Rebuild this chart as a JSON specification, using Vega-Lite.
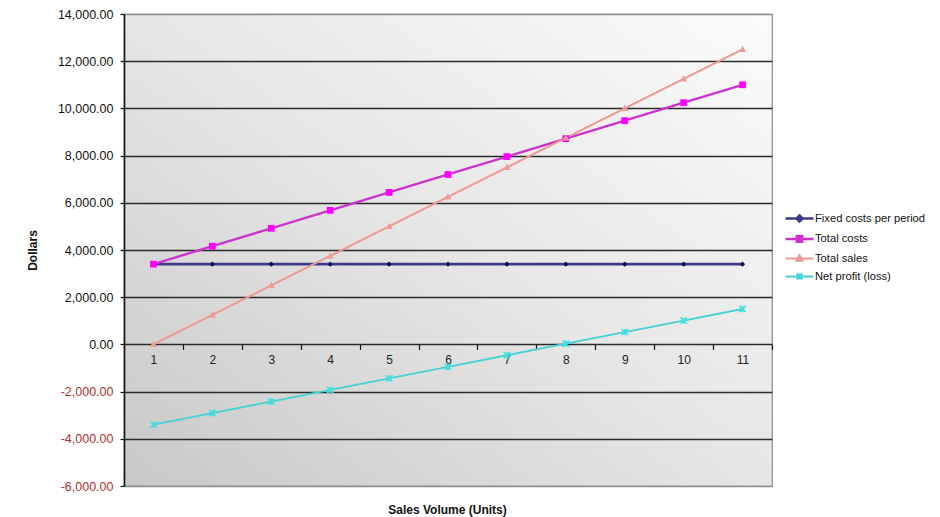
{
  "$schema": "https://vega.github.io/schema/vega-lite/v6.json",
  "width": 648,
  "height": 472,
  "autosize": {"type": "none"},
  "padding": {"left": 124, "top": 14, "right": 168, "bottom": 31},
  "background": "white",
  "config": {
    "font": "Liberation Sans",
    "view": {
      "fill": {
        "gradient": "linear",
        "x1": 0, "y1": 1, "x2": 1, "y2": 0,
        "stops": [
          {"offset": 0, "color": "#c8c8c8"},
          {"offset": 0.5, "color": "#e6e6e6"},
          {"offset": 1, "color": "#fbfbfb"}
        ]
      },
      "stroke": "#8c8c8c",
      "strokeWidth": 1.2
    }
  },
  "data": {
    "values": [
      {"units": 1, "series": "Fixed costs per period", "value": 3400},
      {"units": 2, "series": "Fixed costs per period", "value": 3400},
      {"units": 3, "series": "Fixed costs per period", "value": 3400},
      {"units": 4, "series": "Fixed costs per period", "value": 3400},
      {"units": 5, "series": "Fixed costs per period", "value": 3400},
      {"units": 6, "series": "Fixed costs per period", "value": 3400},
      {"units": 7, "series": "Fixed costs per period", "value": 3400},
      {"units": 8, "series": "Fixed costs per period", "value": 3400},
      {"units": 9, "series": "Fixed costs per period", "value": 3400},
      {"units": 10, "series": "Fixed costs per period", "value": 3400},
      {"units": 11, "series": "Fixed costs per period", "value": 3400},
      {"units": 1, "series": "Total costs", "value": 3400},
      {"units": 2, "series": "Total costs", "value": 4160},
      {"units": 3, "series": "Total costs", "value": 4920},
      {"units": 4, "series": "Total costs", "value": 5680},
      {"units": 5, "series": "Total costs", "value": 6440},
      {"units": 6, "series": "Total costs", "value": 7200},
      {"units": 7, "series": "Total costs", "value": 7960},
      {"units": 8, "series": "Total costs", "value": 8720},
      {"units": 9, "series": "Total costs", "value": 9480},
      {"units": 10, "series": "Total costs", "value": 10240},
      {"units": 11, "series": "Total costs", "value": 11000},
      {"units": 1, "series": "Total sales", "value": 0},
      {"units": 2, "series": "Total sales", "value": 1250},
      {"units": 3, "series": "Total sales", "value": 2500},
      {"units": 4, "series": "Total sales", "value": 3750},
      {"units": 5, "series": "Total sales", "value": 5000},
      {"units": 6, "series": "Total sales", "value": 6250},
      {"units": 7, "series": "Total sales", "value": 7500},
      {"units": 8, "series": "Total sales", "value": 8750},
      {"units": 9, "series": "Total sales", "value": 10000},
      {"units": 10, "series": "Total sales", "value": 11250},
      {"units": 11, "series": "Total sales", "value": 12500},
      {"units": 1, "series": "Net profit (loss)", "value": -3400},
      {"units": 2, "series": "Net profit (loss)", "value": -2910},
      {"units": 3, "series": "Net profit (loss)", "value": -2420},
      {"units": 4, "series": "Net profit (loss)", "value": -1930},
      {"units": 5, "series": "Net profit (loss)", "value": -1440},
      {"units": 6, "series": "Net profit (loss)", "value": -950},
      {"units": 7, "series": "Net profit (loss)", "value": -460},
      {"units": 8, "series": "Net profit (loss)", "value": 30},
      {"units": 9, "series": "Net profit (loss)", "value": 520},
      {"units": 10, "series": "Net profit (loss)", "value": 1010},
      {"units": 11, "series": "Net profit (loss)", "value": 1500}
    ]
  },
  "encoding": {
    "x": {
      "field": "units",
      "type": "ordinal",
      "scale": {"type": "band", "paddingInner": 0, "paddingOuter": 0},
      "axis": {
        "title": "Sales Volume (Units)",
        "orient": "bottom",
        "offset": -141.6,
        "domain": false,
        "grid": false,
        "tickBand": "extent",
        "tickSize": 5,
        "tickColor": "#111111",
        "tickWidth": 1.2,
        "labelAngle": 0,
        "labelFontSize": 12,
        "labelColor": "#222222",
        "labelPadding": 5,
        "titleFontSize": 12,
        "titleFontWeight": "bold",
        "titleColor": "#111111",
        "titleX": 323,
        "titleY": 164.6,
        "titleBaseline": "middle",
        "titleAlign": "center"
      }
    },
    "y": {
      "field": "value",
      "type": "quantitative",
      "scale": {"domain": [-6000, 14000], "nice": false, "zero": false},
      "axis": {
        "title": "Dollars",
        "format": ",.2f",
        "labelExpr": "replace(datum.label, '\u2212', '-')",
        "values": [-6000, -4000, -2000, 0, 2000, 4000, 6000, 8000, 10000, 12000, 14000],
        "grid": true,
        "gridColor": {"condition": {"test": "datum.value === 14000 || datum.value === -6000", "value": "#8c8c8c"}, "value": "#2a2a2a"},
        "gridWidth": 1.6,
        "domainColor": "#111111",
        "domainWidth": 1.6,
        "tickColor": "#111111",
        "tickSize": 4,
        "tickWidth": 1.2,
        "labelColor": {"condition": {"test": "datum.value < 0", "value": "#b03030"}, "value": "#111111"},
        "labelFontSize": 12.5,
        "labelPadding": 7,
        "titleFontSize": 12,
        "titleFontWeight": "bold",
        "titleColor": "#111111",
        "titleAngle": -90,
        "titleX": -92,
        "titleY": 236,
        "titleAlign": "center",
        "titleBaseline": "middle"
      }
    }
  },
  "layer": [
    {
      "mark": {"type": "line"},
      "encoding": {
        "color": {
          "field": "series",
          "type": "nominal",
          "scale": {
            "domain": ["Fixed costs per period", "Total costs", "Total sales", "Net profit (loss)"],
            "range": ["#3c3c86", "#cc33cc", "#e89a96", "#45d2d2"]
          },
          "legend": {
            "title": null,
            "orient": "none",
            "legendX": 664,
            "legendY": 193,
            "labelFontSize": 11.2,
            "labelColor": "#111111",
            "labelOffset": 4,
            "symbolSize": 400,
            "rowPadding": 0.5,
            "encode": {
              "symbols": {
                "update": {
                  "shape": {"signal": "datum.value === 'Fixed costs per period' ? 'M-1.4,0H1.4M0,-0.3L0.3,0L0,0.3L-0.3,0Z' : datum.value === 'Total costs' ? 'M-1.4,0H1.4M-0.28,-0.28H0.28V0.28H-0.28Z' : datum.value === 'Total sales' ? 'M-1.4,0H1.4M0,-0.32L0.3,0.22H-0.3Z' : 'M-1.4,0H1.4M-0.3,-0.3L0.3,0.3M-0.3,0.3L0.3,-0.3M0,-0.3V0.3'"},
                  "fill": {"signal": "datum.value === 'Fixed costs per period' ? '#0a0a5a' : datum.value === 'Total costs' ? '#ff00ff' : datum.value === 'Total sales' ? '#f09a96' : 'transparent'"},
                  "strokeWidth": {"value": 2}
                }
              }
            }
          }
        },
        "strokeWidth": {
          "field": "series",
          "type": "nominal",
          "scale": {
            "domain": ["Fixed costs per period", "Total costs", "Total sales", "Net profit (loss)"],
            "range": [2.6, 1.8, 1.5, 1.8]
          },
          "legend": null
        }
      }
    },
    {
      "transform": [{"filter": "datum.series === 'Fixed costs per period'"}],
      "mark": {"type": "point", "shape": "M0,-1L1,0L0,1L-1,0Z", "filled": true, "opacity": 1, "color": "#0a0a5a", "size": 26}
    },
    {
      "transform": [{"filter": "datum.series === 'Total costs'"}],
      "mark": {"type": "point", "shape": "M-1,-1H1V1H-1Z", "filled": true, "opacity": 1, "color": "#ff00ff", "size": 46}
    },
    {
      "transform": [{"filter": "datum.series === 'Total sales'"}],
      "mark": {"type": "point", "shape": "M0,-1L1,0.75H-1Z", "filled": true, "opacity": 1, "color": "#f09a96", "size": 50}
    },
    {
      "transform": [{"filter": "datum.series === 'Net profit (loss)'"}],
      "mark": {"type": "point", "shape": "M-1,-1L1,1M-1,1L1,-1M0,-1V1", "filled": false, "opacity": 1, "color": "#40e0e0", "strokeWidth": 1.6, "size": 40}
    }
  ]
}
